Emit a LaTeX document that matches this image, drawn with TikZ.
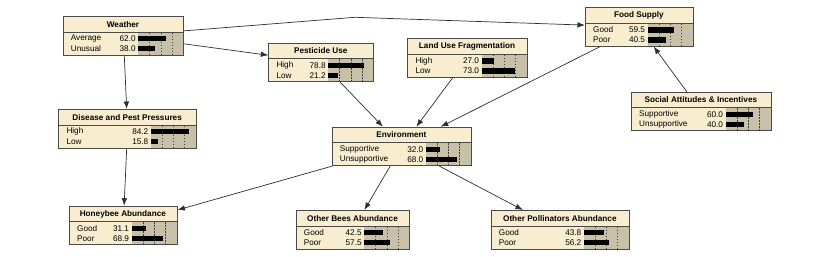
\documentclass[tikz,border=0pt]{standalone}
\usepackage{fontspec}
\setmainfont{Liberation Sans}
\usetikzlibrary{arrows.meta}
\definecolor{cream}{HTML}{F8EDCF}
\definecolor{tanbg}{HTML}{C9C0A9}
\definecolor{edgegray}{HTML}{4A4A4A}
\definecolor{wiregray}{HTML}{2E2E2E}
\pgfkeys{/pgf/number format/assume math mode=true}
\tikzset{
  boxborder/.style={draw=edgegray, line width=0.8pt, inner sep=0pt, anchor=north west},
  titletext/.style={font=\fontsize{8.2}{9.8}\selectfont\bfseries, text=black, inner sep=0pt},
  statetext/.style={font=\fontsize{8.2}{9.8}\selectfont, text=black, inner sep=0pt},
  gridline/.style={draw=black!75, line width=0.6pt, dash pattern=on 1.6pt off 1.4pt},
  wire/.style={draw=wiregray, line width=0.7pt, -{Latex[length=7.5pt,width=5.5pt]}},
  wirenotip/.style={draw=wiregray, line width=0.7pt}
}
\newcommand{\netnode}[9]{%
  \pgfmathsetmacro{\nnW}{#4-#2}%
  \pgfmathsetmacro{\nnBW}{#4-#5}%
  \pgfmathsetmacro{\nnVb}{100-#8}%
  \fill[cream] (#2,#3) rectangle (#4,#3+38.5);
  \fill[tanbg] (#5,#3+16) rectangle (#4,#3+38.5);
  \draw[edgegray, line width=0.7pt] (#2,#3+16) -- (#4,#3+16);
  \foreach \k in {0.25,0.5,0.75}{\draw[gridline] (#5+\k*\nnBW,#3+16.5) -- (#5+\k*\nnBW,#3+38);}
  \fill[black] (#5,#3+22.6-2.6) rectangle (#5+\nnBW*#8/100,#3+22.6+2.6);
  \fill[black] (#5,#3+32.6-2.6) rectangle (#5+\nnBW*\nnVb/100,#3+32.6+2.6);
  \node[titletext] at ({(#2+#4)/2},#3+8.2) {#6};
  \node[statetext, anchor=west] at (#2+8,#3+22.7) {#7};
  \node[statetext, anchor=east] at (#5-2.5,#3+22.7) {#8};
  \node[statetext, anchor=west] at (#2+8,#3+32.7) {#9};
  \node[statetext, anchor=east] at (#5-2.5,#3+32.7) {\pgfmathprintnumber[fixed,precision=1,fixed zerofill]{\nnVb}};
  \node[boxborder, minimum width=\nnW pt, minimum height=38.5pt] (#1) at (#2,#3) {};
}
\begin{document}
\begin{tikzpicture}[x=1pt,y=-1pt]
\useasboundingbox[fill=white] (0,0) rectangle (830,257);

\netnode{weather}{62.7}{16}{183.3}{138.3}{Weather}{Average}{62.0}{Unusual}
\netnode{pest}{268.3}{42.7}{373.3}{328.3}{Pesticide Use}{High}{78.8}{Low}
\netnode{land}{407.3}{38.3}{526.7}{481.7}{Land Use Fragmentation}{High}{27.0}{Low}
\netnode{food}{585}{7.3}{692.7}{647.7}{Food Supply}{Good}{59.5}{Poor}
\netnode{disease}{58.3}{109}{196}{151}{Disease and Pest Pressures}{High}{84.2}{Low}
\netnode{env}{331.7}{126.7}{471}{426}{Environment}{Supportive}{32.0}{Unsupportive}
\netnode{social}{631}{91.7}{770.7}{725.7}{Social Attitudes \& Incentives}{Supportive}{60.0}{Unsupportive}
\netnode{honey}{69}{205.7}{176.7}{131.7}{Honeybee Abundance}{Good}{31.1}{Poor}
\netnode{bees}{295.7}{210}{409.3}{364.3}{Other Bees Abundance}{Good}{42.5}{Poor}
\netnode{poll}{490.7}{210}{629}{584}{Other Pollinators Abundance}{Good}{43.8}{Poor}

\coordinate (bend) at (355,17.3);
\draw[wirenotip] (weather) -- (bend);
\draw[wire] (bend) -- (food);
\draw[wire] (weather) -- (pest);
\draw[wire] (weather) -- (disease);
\draw[wire] (disease) -- (honey);
\draw[wire] (pest) -- (env);
\draw[wire] (land) -- (env);
\draw[wire] (food) -- (env);
\draw[wire] (social) -- (food);
\draw[wire] (env) -- (honey);
\draw[wire] (env) -- (bees);
\draw[wire] (env) -- (poll);
\end{tikzpicture}
\end{document}
